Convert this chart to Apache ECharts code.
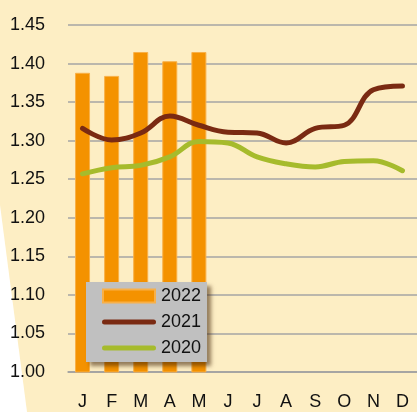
<!DOCTYPE html>
<html>
<head>
<meta charset="utf-8">
<script src="https://cdn.jsdelivr.net/npm/echarts@6/dist/echarts.min.js"></script>
<style>
html,body{margin:0;padding:0;background:#FDEEC4;}
#c{width:417px;height:412px;}
</style>
</head>
<body>
<div id="c"></div>
<script>
var months = ['J','F','M','A','M','J','J','A','S','O','N','D'];
var yTicks = ['1.00','1.05','1.10','1.15','1.20','1.25','1.30','1.35','1.40','1.45'];
var s2022 = [1.388, 1.384, 1.415, 1.403, 1.415];
var s2021 = [1.316, 1.301, 1.310, 1.332, 1.320, 1.311, 1.310, 1.297, 1.316, 1.320, 1.366, 1.371];
var s2020 = [1.257, 1.265, 1.268, 1.279, 1.299, 1.297, 1.279, 1.270, 1.266, 1.273, 1.274, 1.261];

var FONT = '"Liberation Sans Narrow","Liberation Sans",Arial,sans-serif';
var RECT_ICON = 'path://M0,0 L52,0 L52,13 L0,13 Z';
var LINE_ICON = 'path://M2.5,0 L51.5,0 A2.5,2.5 0 0 1 51.5,5 L2.5,5 A2.5,2.5 0 0 1 2.5,0 Z';
var chart = echarts.init(document.getElementById('c'), null, {renderer:'canvas'});
chart.setOption({
  backgroundColor: '#FDEEC4',
  animation: false,
  graphic: [{
    type: 'polygon',
    z: -10,
    silent: true,
    shape: {points: [[0,205],[27,412],[0,412]]},
    style: {fill: '#FFFFFF'}
  }],
  grid: {left: 68, top: 25, width: 353, height: 347, containLabel: false},
  legend: {
    orient: 'vertical',
    left: 86, top: 282,
    padding: [5, 6, 5, 16],
    itemGap: 8,
    itemWidth: 54,
    itemHeight: 13,
    symbolKeepAspect: true,
    backgroundColor: '#C0C0C0',
    shadowColor: 'rgba(60,30,0,0.55)',
    shadowBlur: 4,
    shadowOffsetX: 4,
    shadowOffsetY: 4,
    textStyle: {fontFamily: FONT, fontSize: 18, color: '#111', padding: [0,0,0,0]},
    data: [
      {name: '2022', icon: RECT_ICON},
      {name: '2021', icon: LINE_ICON},
      {name: '2020', icon: LINE_ICON}
    ]
  },
  xAxis: {
    type: 'category',
    data: months,
    axisLine: {show: true, lineStyle: {color: '#A0A0A0', width: 1.5}},
    axisTick: {show: false},
    axisLabel: {fontFamily: FONT, fontSize: 18, color: '#111', margin: 21}
  },
  yAxis: {
    type: 'value',
    min: 1.0, max: 1.45, interval: 0.05,
    axisLine: {show: false},
    axisTick: {show: false},
    splitLine: {lineStyle: {color: '#A5A5A5', width: 1.5}},
    axisLabel: {fontFamily: FONT, fontSize: 18, color: '#111', margin: 23,
      formatter: function(v){ var i = Math.round((v-1)/0.05); return yTicks[i]; }}
  },
  series: [
    {name: '2022', type: 'bar', data: s2022, barWidth: 15,
     itemStyle: {color: '#F49200', borderColor: '#F8B048', borderWidth: 1}},
    {name: '2021', type: 'line', data: s2021, smooth: 0.4, symbol: 'none',
     itemStyle: {color: '#7A2A12'},
     lineStyle: {color: '#7A2A12', width: 5, cap: 'round'}},
    {name: '2020', type: 'line', data: s2020, smooth: 0.4, symbol: 'none',
     itemStyle: {color: '#A6BB2C'},
     lineStyle: {color: '#A6BB2C', width: 5, cap: 'round'}}
  ]
});
</script>
</body>
</html>
